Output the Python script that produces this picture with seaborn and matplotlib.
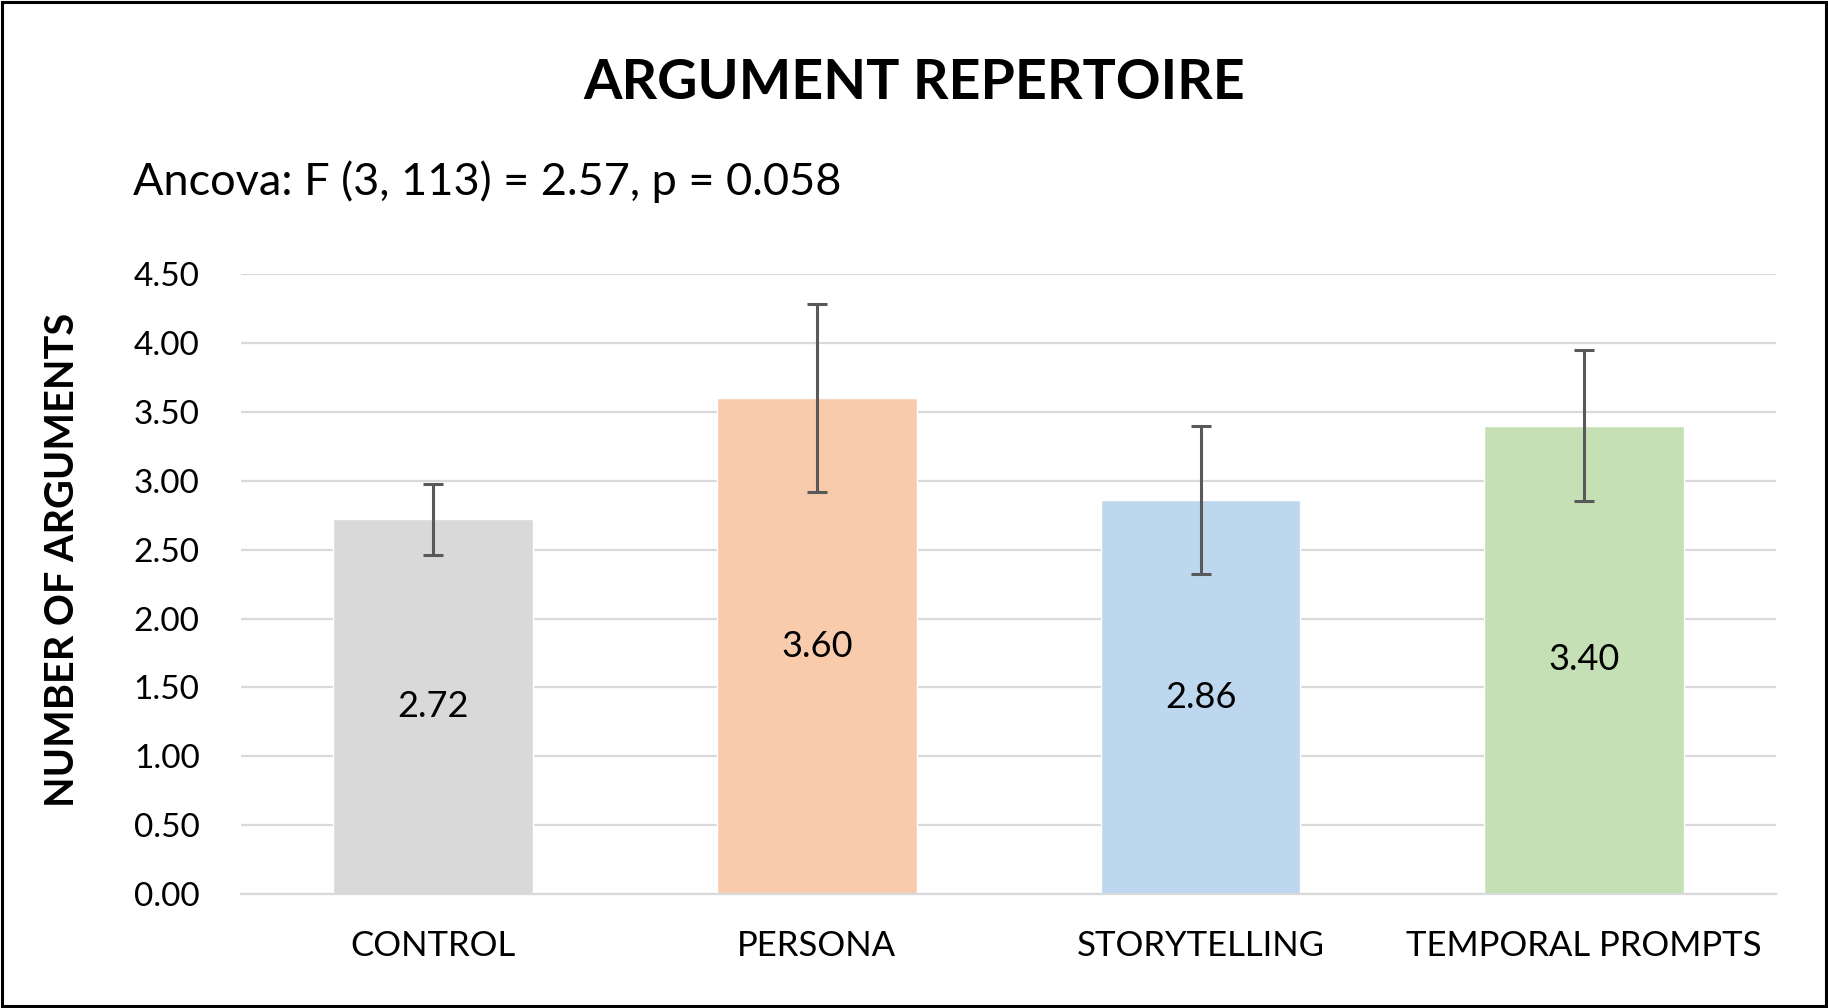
import matplotlib

matplotlib.use("Agg")
import matplotlib.pyplot as plt
import seaborn as sns
from matplotlib.patches import Rectangle

groups = ["CONTROL", "PERSONA", "STORYTELLING", "TEMPORAL PROMPTS"]
means = [2.72, 3.60, 2.86, 3.40]
errors = [0.26, 0.68, 0.54, 0.55]
colors = ["#D9D9D9", "#F8CBAD", "#BDD7EE", "#C5E0B4"]
yticks = [0.0, 0.5, 1.0, 1.5, 2.0, 2.5, 3.0, 3.5, 4.0, 4.5]

title = "ARGUMENT REPERTOIRE"
subtitle = "Ancova: F (3, 113) = 2.57, p = 0.058"
ylabel = "NUMBER OF ARGUMENTS"


def main():
    sns.set_style("white")
    plt.rcParams["font.family"] = ["Lato", "DejaVu Sans"]
    plt.rcParams["text.color"] = "black"
    plt.rcParams["xtick.color"] = "black"
    plt.rcParams["ytick.color"] = "black"

    fig = plt.figure(figsize=(18.28, 10.08), dpi=100)
    ax = fig.add_axes([0.132, 0.113, 0.8396, 0.615])

    sns.barplot(
        x=groups,
        y=means,
        hue=groups,
        palette=colors,
        width=0.52,
        legend=False,
        saturation=1,
        ax=ax,
        zorder=2,
    )
    ax.errorbar(
        range(len(groups)),
        means,
        yerr=errors,
        fmt="none",
        ecolor="#595959",
        elinewidth=2.2,
        capsize=7.5,
        capthick=2.2,
        zorder=3,
    )
    for cont in ax.containers:
        if hasattr(cont, "patches") and len(cont.patches) and isinstance(cont.patches[0], Rectangle):
            ax.bar_label(cont, fmt="%.2f", label_type="center", fontsize=26, color="black")

    ax.set_ylim(0, 4.5)
    ax.set_xlim(-0.5, 3.5)
    ax.set_yticks(yticks)
    ax.set_yticklabels([f"{v:.2f}" for v in yticks], fontsize=24)
    ax.tick_params(axis="x", labelsize=25, length=0, pad=26)
    ax.tick_params(axis="y", length=0, pad=30)
    ax.yaxis.grid(True, color="#D9D9D9", lw=1.6, zorder=0)
    ax.set_axisbelow(True)
    for side in ["top", "right", "left"]:
        ax.spines[side].set_visible(False)
    ax.spines["bottom"].set_color("#D9D9D9")
    ax.spines["bottom"].set_linewidth(1.6)
    ax.set_xlabel(None)
    ax.set_ylabel(None)

    fig.text(0.5, 0.918, title, ha="center", va="center", fontsize=40, fontweight="bold")
    fig.text(0.073, 0.82, subtitle, ha="left", va="center", fontsize=32.5)
    fig.text(0.034, 0.445, ylabel, ha="center", va="center", rotation=90,
             fontsize=28.5, fontweight="bold")

    fig.patches.append(
        Rectangle((0.001, 0.002), 0.998, 0.996, transform=fig.transFigure,
                  fill=False, edgecolor="black", lw=2.2)
    )
    fig.savefig("out.png", dpi=100)


if __name__ == "__main__":
    main()
